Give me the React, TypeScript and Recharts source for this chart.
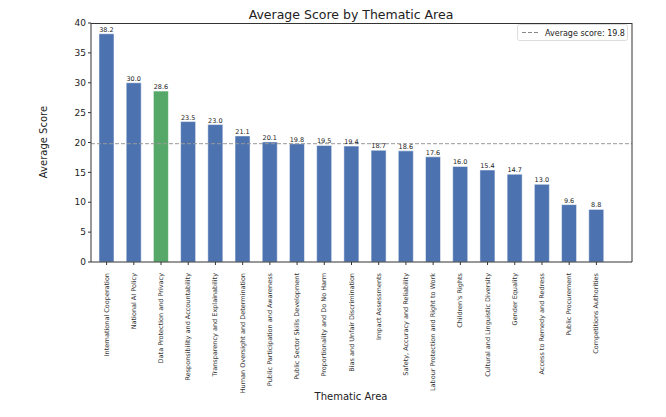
import React from 'react';
import { BarChart, Bar, XAxis, YAxis, ReferenceLine, Cell, LabelList } from 'recharts';

const categories = ['International Cooperation','National AI Policy','Data Protection and Privacy','Responsibility and Accountability','Transparency and Explainability','Human Oversight and Determination','Public Participation and Awareness','Public Sector Skills Development','Proportionality and Do No Harm','Bias and Unfair Discrimination','Impact Assessments','Safety, Accuracy and Reliability','Labour Protection and Right to Work',"Children's Rights",'Cultural and Linguistic Diversity','Gender Equality','Access to Remedy and Redress','Public Procurement','Competitions Authorities'];
const scores = [38.2,30.0,28.6,23.5,23.0,21.1,20.1,19.8,19.5,19.4,18.7,18.6,17.6,16.0,15.4,14.7,13.0,9.6,8.8];
const yTicks = [0,5,10,15,20,25,30,35,40];
const average = 19.8;
const highlight = 'Data Protection and Privacy';

const data = categories.map((c, i) => ({ name: c, score: scores[i] }));
const font = 'DejaVu Sans';

const Tick = (props: any) => {
  const { x, y, payload } = props;
  return (
    <text x={x} y={y + 6} transform={`rotate(-90, ${x}, ${y + 6})`} textAnchor="end" dominantBaseline="central" fontSize={6.5} fill="#333" fontFamily={font}>
      {payload.value}
    </text>
  );
};

export default function App() {
  return (
    <div style={{ position: 'absolute', left: 0, top: 0, width: 666, height: 417, background: '#fff' }}>
      <svg width={666} height={417} style={{ position: 'absolute', left: 0, top: 0 }}>
        <text x={351} y={19} textAnchor="middle" fontSize={12.5} fontFamily={font} fill="#222">Average Score by Thematic Area</text>
        <text x={351} y={400} textAnchor="middle" fontSize={10} fontFamily={font} fill="#222">Thematic Area</text>
        <text x={47} y={142} transform="rotate(-90,47,142)" textAnchor="middle" fontSize={10} fontFamily={font} fill="#222">Average Score</text>
        <rect x={517.5} y={24.5} width={110} height={16} fill="#fff" stroke="#ddd" rx={2} />
        <line x1={522} y1={32.5} x2={538} y2={32.5} stroke="#888" strokeDasharray="4 2" />
        <text x={545} y={36} fontSize={8} fontFamily={font} fill="#222">Average score: 19.8</text>
      </svg>
      <BarChart width={666} height={417} data={data} margin={{ top: 23, right: 34, left: 0, bottom: 30 }} barCategoryGap="22%" style={{ position: 'absolute', left: 0, top: 0 }}>
        <XAxis dataKey="name" interval={0} tick={<Tick />} tickLine={{ stroke: '#333' }} tickSize={3} axisLine={{ stroke: '#333' }} height={125} padding={{ left: 2, right: 22 }} />
        <YAxis domain={[0, 40]} ticks={yTicks} width={91} tick={{ fontSize: 9, fill: '#222', fontFamily: font }} tickLine={{ stroke: '#333' }} tickSize={3} axisLine={{ stroke: '#333' }} />
        <ReferenceLine y={average} stroke="#999" strokeDasharray="4 2" />
        <Bar dataKey="score" isAnimationActive={false} stroke="#fff" strokeWidth={0.5}>
          {data.map((d) => <Cell key={d.name} fill={d.name === highlight ? '#55a868' : '#4c72b0'} />)}
          <LabelList dataKey="score" position="top" offset={2} formatter={(v: any) => Number(v).toFixed(1)} style={{ fontSize: 6.5, fill: '#222', fontFamily: font }} />
        </Bar>
      </BarChart>
      <svg width={666} height={417} style={{ position: 'absolute', left: 0, top: 0, pointerEvents: 'none' }}>
        <line x1={91} y1={23.5} x2={632} y2={23.5} stroke="#333" />
        <line x1={632} y1={23} x2={632} y2={262} stroke="#333" />
      </svg>
    </div>
  );
}
